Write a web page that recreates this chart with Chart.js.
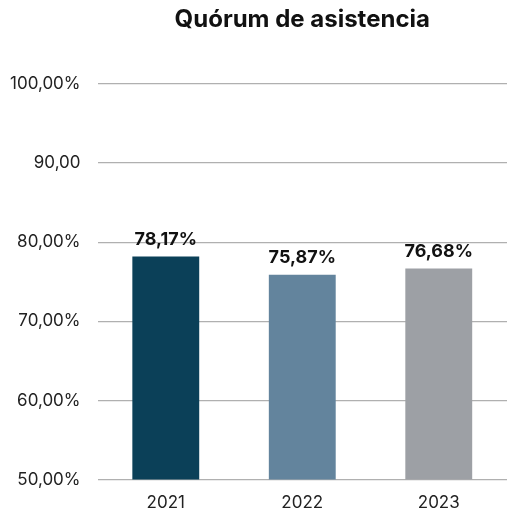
<!DOCTYPE html>
<html>
<head>
<meta charset="utf-8">
<script src="https://cdn.jsdelivr.net/npm/chart.js@4"></script>
<style>
  html, body { margin: 0; padding: 0; background: #fff; }
  #wrap { width: 512px; height: 513px; position: relative; }
</style>
</head>
<body>
<div id="wrap"><canvas id="barChart"></canvas></div>
<script>
var years = ["2021", "2022", "2023"];
var quorum = [78.17, 75.87, 76.68];
var barColors = ["#0b4058", "#63849d", "#9da0a5"];
var yTickLabels = ["50,00%", "60,00%", "70,00%", "80,00%", "90,00", "100,00%"];

function fmt(v) {
  return v.toFixed(2).replace(".", ",") + "%";
}

// value labels above each bar
var valueLabels = {
  id: "valueLabels",
  afterDatasetsDraw: function(chart) {
    var ctx = chart.ctx;
    var meta = chart.getDatasetMeta(0);
    ctx.save();
    ctx.font = "bold 18px Inter";
    ctx.fillStyle = "#111";
    ctx.textAlign = "center";
    ctx.textBaseline = "bottom";
    meta.data.forEach(function(bar, i) {
      ctx.fillText(fmt(quorum[i]), bar.x, bar.y - 8);
    });
    ctx.restore();
  }
};

var ctx = document.getElementById("barChart").getContext("2d");
var chart = new Chart(ctx, {
  type: "bar",
  data: {
    labels: years,
    datasets: [{
      data: quorum,
      backgroundColor: barColors,
      barPercentage: 0.49,
      categoryPercentage: 1.0
    }]
  },
  options: {
    responsive: true,
    maintainAspectRatio: false,
    animation: false,
    layout: { padding: { left: -7, right: 5, top: 2, bottom: -5 } },
    plugins: {
      legend: { display: false },
      tooltip: { enabled: false },
      title: {
        display: true,
        fullSize: false,
        text: "Quórum de asistencia",
        color: "#111",
        font: { family: "Inter", size: 24, weight: "bold" },
        padding: { top: 3, bottom: 50 }
      }
    },
    scales: {
      x: {
        grid: { display: false },
        border: { display: false },
        ticks: {
          color: "#222",
          font: { family: "Inter", size: 17 },
          padding: 5
        }
      },
      y: {
        min: 50,
        max: 100,
        border: { display: false },
        grid: { color: "#b0b0b0", lineWidth: 1.2, drawTicks: false },
        ticks: {
          stepSize: 10,
          color: "#222",
          font: { family: "Inter", size: 17 },
          padding: 17,
          callback: function(value) {
            return yTickLabels[(value - 50) / 10];
          }
        }
      }
    }
  },
  plugins: [valueLabels]
});
</script>
</body>
</html>
